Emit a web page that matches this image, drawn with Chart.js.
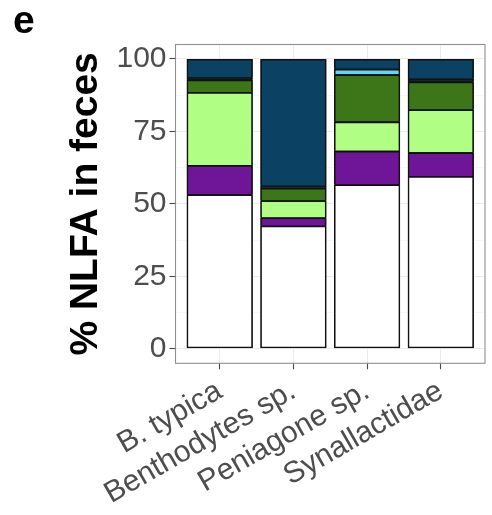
<!DOCTYPE html>
<html>
<head>
<meta charset="utf-8">
<script src="https://cdn.jsdelivr.net/npm/chart.js@4"></script>
<style>
  html, body { margin: 0; padding: 0; background: #ffffff; }
  #wrap { width: 492px; height: 515px; }
</style>
</head>
<body>
<div id="wrap"><canvas id="c" width="492" height="515"></canvas></div>
<script>
// Species on the x axis
const categories = ['B. typica', 'Benthodytes sp.', 'Peniagone sp.', 'Synallactidae'];

// Share (%) of each fatty-acid class, stacked from bottom to top
const class1 = [53.3, 42.5, 56.7, 59.6];   // white
const class2 = [10.1, 2.8, 11.6, 8.2];     // purple
const class3 = [25.2, 5.9, 10.1, 14.8];    // light green
const class4 = [4.3, 4.3, 16.3, 9.6];      // dark green
const class5 = [0.7, 0.8, 0.0, 1.0];       // near-black
const class6 = [0.0, 0.0, 1.9, 0.0];       // cyan
const class7 = [6.4, 43.7, 3.4, 6.8];      // dark blue

// Labelled y ticks
const yTicks = [0, 25, 50, 75, 100];

const seriesList = [class1, class2, class3, class4, class5, class6, class7];
const seriesNames = ['Class 1', 'Class 2', 'Class 3', 'Class 4', 'Class 5', 'Class 6', 'Class 7'];
const fills = ['#ffffff', '#6f1598', '#b0ff84', '#3d7519', '#142b38', '#5fd8f7', '#0b4264'];

const FONT = '"Liberation Sans", Arial, Helvetica, sans-serif';
const OUTLINE = '#111111';

const datasets = seriesList.map((vals, k) => ({
  label: seriesNames[k],
  data: vals.map((v, i) => ({ x: i + 1, y: v })),
  backgroundColor: fills[k],
  borderColor: OUTLINE,
  borderWidth: 1.6,
  borderSkipped: k === 0 ? false : 'bottom',
  inflateAmount: 0,
  categoryPercentage: 0.9,
  barPercentage: 1.0
}));

// minor grid positions halfway between labelled ticks
const yGridValues = [];
yTicks.forEach((t, i) => {
  yGridValues.push(t);
  if (i < yTicks.length - 1) yGridValues.push((t + yTicks[i + 1]) / 2);
});
const isMajor = v => yTicks.includes(v);

// dark backing behind each stacked column so segment joins stay solid
const stackBacking = {
  id: 'stackBacking',
  beforeDatasetsDraw(chart) {
    const ctx = chart.ctx;
    const metas = chart.getSortedVisibleDatasetMetas();
    ctx.save();
    ctx.fillStyle = OUTLINE;
    categories.forEach((c, i) => {
      let top = Infinity, bottom = -Infinity, x = 0, w = 0;
      metas.forEach(m => {
        const el = m.data[i];
        if (!el) return;
        const p = el.getProps(['x', 'y', 'base', 'width'], true);
        top = Math.min(top, p.y, p.base);
        bottom = Math.max(bottom, p.y, p.base);
        x = p.x;
        w = p.width;
      });
      if (isFinite(top)) ctx.fillRect(x - w / 2 + 0.4, top + 0.4, w - 0.8, bottom - top - 0.8);
    });
    ctx.restore();
  }
};

// frame around the plotting panel
const panelFrame = {
  id: 'panelFrame',
  afterDraw(chart) {
    const { ctx, chartArea: a } = chart;
    ctx.save();
    ctx.strokeStyle = '#8f8f8f';
    ctx.lineWidth = 1.1;
    ctx.strokeRect(a.left, a.top, a.right - a.left, a.bottom - a.top);
    ctx.restore();
  }
};

// panel letter in the top-left corner
const panelTag = {
  id: 'panelTag',
  afterDraw(chart) {
    const ctx = chart.ctx;
    ctx.save();
    ctx.font = 'bold 39px ' + FONT;
    ctx.fillStyle = '#000000';
    ctx.textBaseline = 'alphabetic';
    ctx.textAlign = 'left';
    ctx.fillText('e', 13, 33);
    ctx.restore();
  }
};

new Chart(document.getElementById('c'), {
  type: 'bar',
  data: { datasets },
  plugins: [stackBacking, panelFrame, panelTag],
  options: {
    responsive: false,
    animation: false,
    layout: { padding: { left: 0, top: 44.5, right: 7, bottom: 0 } },
    plugins: {
      legend: { display: false },
      tooltip: { enabled: false }
    },
    scales: {
      x: {
        type: 'linear',
        stacked: true,
        offset: false,
        min: 0.4,
        max: 4.6,
        afterBuildTicks: s => { s.ticks = categories.map((c, i) => ({ value: i + 1 })); },
        afterFit: s => { s.height = 515 - 363.3; },
        border: { display: false },
        grid: {
          offset: false,
          color: '#ebebeb',
          lineWidth: 1,
          drawTicks: true,
          tickLength: 6,
          tickColor: '#4a4a4a',
          tickWidth: 1.1
        },
        ticks: {
          autoSkip: false,
          minRotation: 30,
          maxRotation: 30,
          padding: 4,
          color: '#4d4d4d',
          font: { family: FONT, size: 30 },
          callback: v => categories[v - 1]
        }
      },
      y: {
        type: 'linear',
        stacked: true,
        min: -5,
        max: 105,
        afterBuildTicks: s => { s.ticks = yGridValues.map(v => ({ value: v })); },
        afterFit: s => { s.width = 175.5; },
        border: { display: false },
        grid: {
          color: ctx => isMajor(ctx.tick.value) ? '#ebebeb' : '#f3f3f3',
          lineWidth: ctx => isMajor(ctx.tick.value) ? 1 : 0.7,
          drawTicks: true,
          tickLength: 6,
          tickColor: ctx => isMajor(ctx.tick.value) ? '#4a4a4a' : 'rgba(0,0,0,0)',
          tickWidth: 1.1
        },
        ticks: {
          padding: 3,
          color: '#4d4d4d',
          font: { family: FONT, size: 30 },
          callback: v => isMajor(v) ? String(v) : ''
        },
        title: {
          display: true,
          text: '% NLFA in feces',
          color: '#000000',
          font: { family: FONT, size: 39, weight: 'bold' },
          padding: { top: 63, bottom: 0 }
        }
      }
    }
  }
});
</script>
</body>
</html>
